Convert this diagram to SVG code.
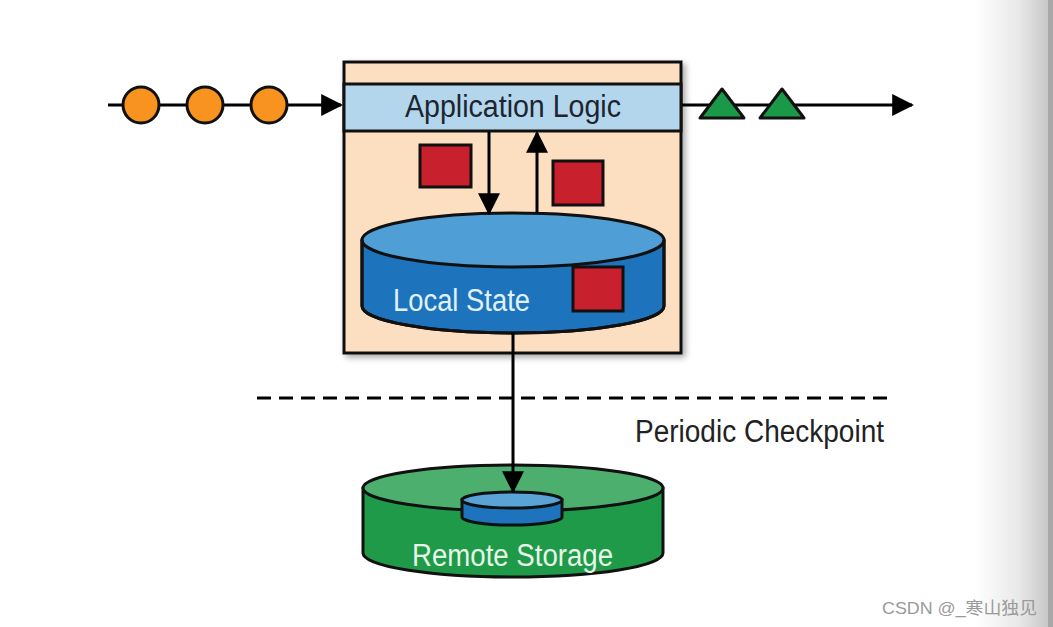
<svg xmlns="http://www.w3.org/2000/svg" width="1053" height="627" viewBox="0 0 1053 627">
<defs>
<linearGradient id="edge" x1="0" y1="0" x2="1" y2="0">
<stop offset="0" stop-color="#ffffff"/>
<stop offset="0.6" stop-color="#e8e8e8"/>
<stop offset="1" stop-color="#c6c6c6"/>
</linearGradient>
<marker id="ah" viewBox="0 0 10 10" refX="9" refY="5" markerWidth="22" markerHeight="22" markerUnits="userSpaceOnUse" orient="auto">
<path d="M0,0 L10,5 L0,10 Z" fill="#000"/>
</marker>
<filter id="sh" x="-5%" y="-5%" width="115%" height="115%">
<feGaussianBlur in="SourceAlpha" stdDeviation="3"/>
<feOffset dx="3" dy="3"/>
<feComponentTransfer><feFuncA type="linear" slope="0.35"/></feComponentTransfer>
<feMerge><feMergeNode/><feMergeNode in="SourceGraphic"/></feMerge>
</filter>
</defs>
<style>
.ln{stroke:#000;stroke-width:3;fill:none}
.sq{fill:#c8202c;stroke:#111;stroke-width:3}
.lbl{font-family:"Liberation Sans",Arial,sans-serif;font-size:31px}
</style>
<rect width="1053" height="627" fill="#fff"/>
<rect x="975" y="0" width="74" height="627" fill="url(#edge)"/>
<rect x="1048" y="0" width="5" height="627" fill="#a8a8a8"/>

<g id="operator">
<rect x="344" y="62" width="337" height="291" fill="#fcdfc1" stroke="#111" stroke-width="3" filter="url(#sh)"/>
</g>

<g id="app-logic">
<rect x="344" y="84" width="337" height="47" fill="#b4d6ec" stroke="#111" stroke-width="3"/>
<text class="lbl" x="513" y="117" text-anchor="middle" fill="#1c2530" textLength="216" lengthAdjust="spacingAndGlyphs">Application Logic</text>
</g>

<g id="local-state">
<path d="M362,240 L362,306 A151,27 0 0 0 664,306 L664,240 Z" fill="#1d74bd" stroke="#111" stroke-width="3"/>
<ellipse cx="513" cy="240" rx="151" ry="27" fill="#4f9ed6" stroke="#111" stroke-width="3"/>
<path d="M362,240 L362,306 A151,27 0 0 0 664,306 L664,240" fill="none" stroke="#111" stroke-width="3"/>
<text class="lbl" x="393" y="311" fill="#e0f1fa" textLength="137" lengthAdjust="spacingAndGlyphs">Local State</text>
<rect class="sq" x="573" y="267" width="50" height="44"/>
</g>

<text class="lbl" x="635" y="442" fill="#222" textLength="249" lengthAdjust="spacingAndGlyphs">Periodic Checkpoint</text>

<g id="remote-storage">
<path d="M363,488 L363,553 A150,24 0 0 0 663,553 L663,488 Z" fill="#1e9a48" stroke="#111" stroke-width="3"/>
<ellipse cx="513" cy="488" rx="150" ry="23" fill="#4daf6e" stroke="#111" stroke-width="3"/>
<path d="M462,500 L462,517 A50,8 0 0 0 562,517 L562,500 Z" fill="#1d74bd" stroke="#111" stroke-width="3"/>
<ellipse cx="512" cy="500" rx="50" ry="8" fill="#5aa3d6" stroke="#111" stroke-width="3"/>
<text class="lbl" x="412" y="566" fill="#e6f6e8" textLength="201" lengthAdjust="spacingAndGlyphs">Remote Storage</text>
</g>

<g id="connectors">
<line class="ln" x1="108" y1="105" x2="341" y2="105" marker-end="url(#ah)"/>
<line class="ln" x1="682" y1="105" x2="912" y2="105" marker-end="url(#ah)"/>
<line class="ln" x1="489" y1="132" x2="489" y2="213" marker-end="url(#ah)"/>
<line class="ln" x1="537" y1="213" x2="537" y2="133" marker-end="url(#ah)"/>
<line class="ln" x1="513" y1="333" x2="513" y2="491" marker-end="url(#ah)"/>
<line x1="257" y1="398" x2="888" y2="398" stroke="#000" stroke-width="3" stroke-dasharray="14 8"/>
</g>

<g id="input-events">
<circle cx="141" cy="105" r="18" fill="#f7931e" stroke="#111" stroke-width="3"/>
<circle cx="205" cy="105" r="18" fill="#f7931e" stroke="#111" stroke-width="3"/>
<circle cx="269" cy="105" r="18" fill="#f7931e" stroke="#111" stroke-width="3"/>
</g>

<g id="output-events">
<polygon points="700,118 722,89 744,118" fill="#1a9a48" stroke="#111" stroke-width="3" stroke-linejoin="round"/>
<polygon points="760,118 782,89 804,118" fill="#1a9a48" stroke="#111" stroke-width="3" stroke-linejoin="round"/>
</g>

<g id="state-items">
<rect class="sq" x="420" y="145" width="51" height="42"/>
<rect class="sq" x="553" y="161" width="50" height="44"/>
</g>

<text x="882" y="614" font-family="Liberation Sans,'Noto Sans CJK SC',sans-serif" font-size="17" fill="#9a9a9a" textLength="155" lengthAdjust="spacingAndGlyphs">CSDN @_寒山独见</text>
</svg>
